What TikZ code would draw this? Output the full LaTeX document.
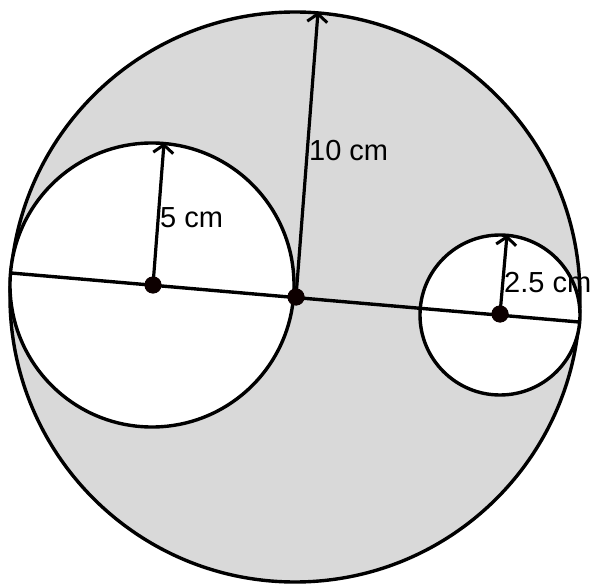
\documentclass[tikz,border=0pt]{standalone}
\usepackage{fontspec}
\setmainfont{Liberation Sans}
\usetikzlibrary{arrows.meta}
\definecolor{shade}{HTML}{D9D9D9}
\tikzset{
  edge/.style={line width=3.4pt, black},
  radarrow/.style={line width=3.2pt, black, -{Straight Barb[length=8pt,width=20pt,line width=3pt]}},
  centerdot/.style={circle, fill=black!95!red, minimum size=17pt, inner sep=0pt},
  lbl/.style={anchor=west, inner sep=0pt, font=\fontsize{29}{32}\selectfont}
}
\begin{document}
\begin{tikzpicture}[x=1pt,y=-1pt]
\useasboundingbox (0,0) rectangle (592,588);
% circles
\draw[edge, fill=shade] (295,297) circle (285);
\draw[edge, fill=white] (152,285) circle (142);
\draw[edge, fill=white] (500,315) circle (80);
% coordinates
\coordinate (L) at (11,273);
\coordinate (R) at (579,322);
\coordinate (tipbig) at (318,12);
\coordinate (tipleft) at (164,143);
\coordinate (tipright) at (507,235);
\node[centerdot] (cbig) at (296,297) {};
\node[centerdot] (cleft) at (153,285) {};
\node[centerdot] (cright) at (500,314) {};
% diameter line
\draw[edge] (L) -- (R);
% radii
\draw[radarrow] (cbig.center) -- (tipbig);
\draw[radarrow] (cleft.center) -- (tipleft);
\draw[radarrow] (cright.center) -- (tipright);
% redraw dots on top
\node[centerdot] at (cbig) {};
\node[centerdot] at (cleft) {};
\node[centerdot] at (cright) {};
% labels
\node[lbl] (l10) at (309,151) {10 cm};
\node[lbl] (l5) at (160,218) {5 cm};
\node[lbl] (l25) at (504,283) {2.5 cm};
\end{tikzpicture}
\end{document}
